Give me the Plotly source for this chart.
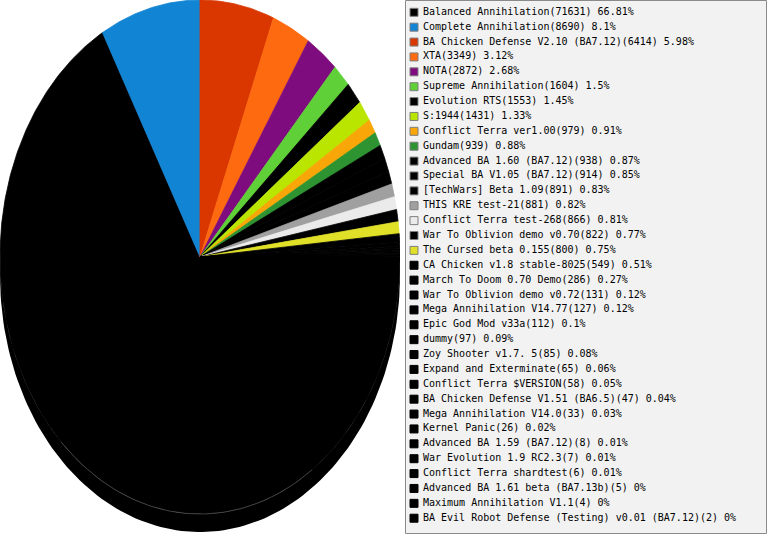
import numpy as np
import plotly.graph_objects as go

names = [
    "Balanced Annihilation", "Complete Annihilation", "BA Chicken Defense V2.10 (BA7.12)",
    "XTA", "NOTA", "Supreme Annihilation", "Evolution RTS", "S:1944",
    "Conflict Terra ver1.00", "Gundam", "Advanced BA 1.60 (BA7.12)", "Special BA V1.05 (BA7.12)",
    "[TechWars] Beta 1.09", "THIS KRE test-21", "Conflict Terra test-268",
    "War To Oblivion demo v0.70", "The Cursed beta 0.155", "CA Chicken v1.8 stable-8025",
    "March To Doom 0.70 Demo", "War To Oblivion demo v0.72", "Mega Annihilation V14.77",
    "Epic God Mod v33a", "dummy", "Zoy Shooter v1.7. 5", "Expand and Exterminate",
    "Conflict Terra $VERSION", "BA Chicken Defense V1.51 (BA6.5)", "Mega Annihilation V14.0",
    "Kernel Panic", "Advanced BA 1.59 (BA7.12)", "War Evolution 1.9 RC2.3",
    "Conflict Terra shardtest", "Advanced BA 1.61 beta (BA7.13b)", "Maximum Annihilation V1.1",
    "BA Evil Robot Defense (Testing) v0.01 (BA7.12)",
]
counts = [71631, 8690, 6414, 3349, 2872, 1604, 1553, 1431, 979, 939, 938, 914, 891, 881,
          866, 822, 800, 549, 286, 131, 127, 112, 97, 85, 65, 58, 47, 33, 26, 8, 7, 6, 5, 4, 2]
percents = ["66.81", "8.1", "5.98", "3.12", "2.68", "1.5", "1.45", "1.33", "0.91", "0.88",
            "0.87", "0.85", "0.83", "0.82", "0.81", "0.77", "0.75", "0.51", "0.27", "0.12",
            "0.12", "0.1", "0.09", "0.08", "0.06", "0.05", "0.04", "0.03", "0.02", "0.01",
            "0.01", "0.01", "0", "0", "0"]
colors = ["#000000", "#1284d4", "#d93600", "#fd6a10", "#7e0c7e", "#5fd038", "#000000",
          "#b9e500", "#f8a608", "#2d9431", "#000000", "#000000", "#000000", "#a0a0a0",
          "#ebebeb", "#000000", "#e0e028"] + ["#000000"] * 18

W, H = 767, 535
RX, RY, DEPTH = 200, 257, 18
CY = 257  # centre from top (px)

fig = go.Figure()

# side wall of the tilted pie (below the top surface)
th = np.linspace(np.pi / 2, 3 * np.pi / 2, 120)
wx = np.concatenate([RX * np.sin(th), RX * np.sin(th[::-1])])
wy = np.concatenate([RY * np.cos(th), RY * np.cos(th[::-1]) - DEPTH])
fig.add_trace(go.Scatter(x=wx, y=wy, fill="toself", fillcolor="#000000", mode="lines",
                         line=dict(width=0), hoverinfo="skip", showlegend=False))

# slices: clockwise from 12 o'clock, first two slices end at 12 o'clock
total = float(sum(counts))
fr = np.array(counts) / total
start = -(fr[0] + fr[1]) * 2 * np.pi
for i, (n, f) in enumerate(zip(names, fr)):
    a0 = start
    a1 = start + f * 2 * np.pi
    start = a1
    k = max(3, int(np.ceil((a1 - a0) / (2 * np.pi) * 720)))
    t = np.linspace(a0, a1, k)
    xs = np.concatenate([[0], RX * np.sin(t), [0]])
    ys = np.concatenate([[0], RY * np.cos(t), [0]])
    fig.add_trace(go.Scatter(x=xs, y=ys, fill="toself", fillcolor=colors[i], mode="lines",
                             line=dict(width=0.8, color=colors[i]), name=n,
                             hoverinfo="text", text=f"{n}({counts[i]}) {percents[i]}%",
                             hoveron="fills", showlegend=False))

# faint rim line on the front edge
tr = np.linspace(np.radians(146), np.radians(224), 60)
fig.add_trace(go.Scatter(x=RX * np.sin(tr), y=RY * np.cos(tr), mode="lines",
                         line=dict(width=1, color="rgba(110,110,110,0.55)"),
                         hoverinfo="skip", showlegend=False))

# legend (drawn on a second pair of axes)
idx = list(range(len(names)))
labels = [f"{n}({c}) {p}%" for n, c, p in zip(names, counts, percents)]
border = ["#7f7f7f" if i < 17 else "#000000" for i in idx]
fig.add_trace(go.Scatter(x=[414] * len(idx), y=idx, xaxis="x2", yaxis="y2", mode="markers",
                         marker=dict(symbol="square", size=8, color=colors,
                                     line=dict(width=1, color=border)),
                         hoverinfo="skip", showlegend=False))
fig.add_trace(go.Scatter(x=[423] * len(idx), y=idx, xaxis="x2", yaxis="y2", mode="text",
                         text=labels, textposition="middle right",
                         textfont=dict(family="DejaVu Sans Mono", size=10, color="#000000"),
                         hoverinfo="skip", showlegend=False))

step = 14.88
first = 12.3
fig.update_layout(
    width=W, height=H, margin=dict(l=0, r=0, t=0, b=0),
    paper_bgcolor="#ffffff", plot_bgcolor="rgba(0,0,0,0)",
    xaxis=dict(domain=[0, 2 * RX / W], range=[-RX, RX], visible=False, fixedrange=True),
    yaxis=dict(domain=[0, 1], range=[-(H - CY), CY], visible=False, fixedrange=True),
    xaxis2=dict(domain=[0, 1], range=[0, W], visible=False, anchor="y2", fixedrange=True),
    yaxis2=dict(domain=[0, 1], range=[(H - first) / step, -first / step], visible=False,
                anchor="x2", fixedrange=True),
    shapes=[dict(type="rect", xref="paper", yref="paper", layer="below",
                 x0=405.5 / W, x1=766.5 / W, y0=1 - 533.5 / H, y1=1 - 0.5 / H,
                 line=dict(color="#8a8a8a", width=1), fillcolor="#f2f2f2")],
    showlegend=False,
)

fig.write_html("out.html", config={"displayModeBar": False},
               post_script="document.body.style.margin='0';document.body.style.overflow='hidden';")
